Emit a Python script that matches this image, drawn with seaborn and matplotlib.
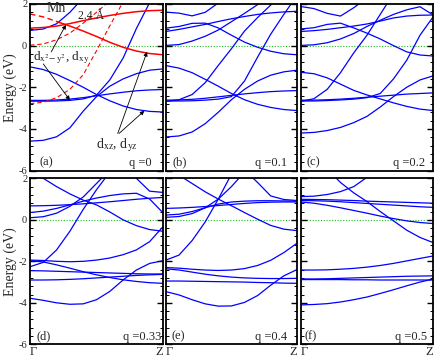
import numpy as np
import matplotlib
matplotlib.use('Agg')
import matplotlib.pyplot as plt
from matplotlib.ticker import MultipleLocator
import seaborn as sns

nan = np.nan

# k-path Gamma (0) -> Z (1), one grid shared by all bands
k = [0.0, 0.1, 0.2, 0.3, 0.4, 0.5, 0.6, 0.7, 0.8, 0.9, 1.0]

# (a) q = 0 ; red = Mn-chain bands
a_red_solid = [0.84, 0.87, 0.94, 1.06, 1.20, 1.33, 1.45, 1.55, 1.63, 1.68, 1.70]
a_red_mixed = [1.52, 1.38, 1.16, 0.94, 0.70, 0.44, 0.16, -0.08, -0.26, -0.38, -0.44]  # dashed until crossing
a_red_dash1 = [0.02, 0.08, 0.28, 0.60, 1.08, 1.60, 2.15, nan, nan, nan, nan]
a_red_dash2 = [-2.79, -2.72, -2.50, -2.10, -1.40, -0.25, 0.95, 2.10, nan, nan, nan]
a_blue = [
    [0.73, 0.80, 1.05, 1.60, 2.30, nan, nan, nan, nan, nan, nan],
    [-1.02, -1.15, -1.38, -1.68, -2.00, -2.35, -2.65, -2.90, -3.07, -3.16, -3.19],
    [-2.63, -2.63, -2.61, -2.57, -2.50, -2.41, -2.32, -2.24, -2.17, -2.13, -2.11],
    [-2.67, -2.67, -2.66, -2.63, -2.56, -2.38, -1.65, -0.60, 0.82, 2.07, nan],
    [-4.59, -4.55, -4.38, -3.95, -3.15, -2.45, -1.95, -1.60, -1.35, -1.18, -1.12],
]

# (b) q = 0.1
b_blue = [
    [1.61, 1.56, 1.43, 1.60, 2.05, nan, nan, nan, nan, nan, nan],
    [0.84, 0.92, 1.07, 1.08, 0.85, 0.50, 0.17, -0.08, -0.27, -0.39, -0.44],
    [0.68, 0.78, 0.90, 1.02, 1.16, 1.29, 1.40, 1.50, 1.57, 1.62, 1.65],
    [0.01, 0.05, 0.22, 0.45, 0.75, 1.15, 1.55, 1.97, 2.40, nan, nan],
    [-2.68, -2.60, -2.35, -1.78, -0.95, -0.15, 0.70, 1.35, 1.95, 2.50, nan],
    [-0.96, -1.08, -1.30, -1.62, -1.95, -2.30, -2.60, -2.82, -2.97, -3.07, -3.12],
    [-2.62, -2.61, -2.58, -2.53, -2.46, -2.39, -2.32, -2.26, -2.21, -2.18, -2.16],
    [-2.66, -2.66, -2.65, -2.62, -2.57, -2.45, -1.70, -0.55, 0.55, 1.50, 2.40],
    [-4.39, -4.34, -4.15, -3.75, -3.20, -2.60, -2.10, -1.70, -1.42, -1.26, -1.18],
]

# (c) q = 0.2
c_blue = [
    [1.88, 1.78, 1.55, 1.42, 1.82, 2.30, nan, nan, nan, nan, nan],
    [0.80, 0.86, 1.02, 1.08, 0.85, 0.60, 0.32, 0.00, -0.30, -0.45, -0.50],
    [0.68, 0.72, 0.78, 0.86, 0.94, 1.04, 1.18, 1.33, 1.42, 1.46, 1.47],
    [0.01, 0.04, 0.14, 0.32, 0.58, 0.92, 1.22, 1.50, 1.72, 1.87, 1.47],
    [-2.68, -2.55, -2.10, -1.30, -0.35, 0.50, 1.50, 2.50, nan, nan, nan],
    [-1.28, -1.35, -1.55, -1.85, -2.15, -2.37, -2.56, -2.75, -2.92, -3.05, -3.12],
    [-2.62, -2.62, -2.60, -2.57, -2.53, -2.48, -2.43, -2.38, -2.33, -2.30, -2.27],
    [-2.66, -2.66, -2.64, -2.61, -2.57, -2.50, -2.30, -1.60, -0.70, 0.50, 1.39],
    [-4.20, -4.17, -4.08, -3.93, -3.70, -3.40, -2.95, -2.45, -2.00, -1.65, -1.45],
]

# (d) q = 0.33
d_blue = [
    [2.45, 2.00, 1.60, 1.25, 0.95, 0.72, 0.38, 0.00, -0.28, -0.47, -0.55],
    [-2.26, -2.05, -1.45, -0.55, 0.50, 1.45, 2.30, nan, nan, nan, nan],
    [0.10, 0.15, 0.32, 0.65, 1.10, 1.75, 2.40, nan, nan, nan, nan],
    [0.35, 0.42, 0.55, 0.72, 0.90, 1.05, 1.17, 1.25, 1.28, 1.00, 0.34],
    [nan, nan, nan, nan, nan, nan, nan, 2.60, 2.00, 1.38, 1.32],
    [0.67, 0.68, 0.70, 0.73, 0.77, 0.82, 0.87, 0.93, 0.99, 1.04, 1.08],
    [-1.94, -1.96, -2.00, -2.02, -2.00, -1.94, -1.84, -1.68, -1.45, -1.05, -0.33],
    [-1.97, -2.03, -2.17, -2.33, -2.50, -2.65, -2.78, -2.89, -2.97, -3.03, -3.06],
    [-2.45, -2.46, -2.48, -2.50, -2.52, -2.54, -2.56, -2.58, -2.60, -2.61, -2.61],
    [-2.90, -2.90, -2.89, -2.87, -2.84, -2.80, -2.76, -2.72, -2.68, -2.65, -2.63],
    [-3.78, -3.88, -4.00, -4.07, -4.05, -3.85, -3.45, -2.90, -2.42, -2.10, -1.97],
]

# (e) q = 0.4
e_blue = [
    [2.50, 2.15, 1.75, 1.35, 1.00, 0.68, 0.35, 0.03, -0.27, -0.45, -0.52],
    [-1.94, -1.70, -1.00, -0.10, 1.00, 2.20, nan, nan, nan, nan, nan],
    [0.12, 0.16, 0.30, 0.58, 1.00, 1.60, 2.30, nan, nan, nan, nan],
    [0.55, 0.57, 0.60, 0.64, 0.69, 0.74, 0.79, 0.83, 0.85, 0.86, 0.86],
    [0.23, 0.27, 0.40, 0.58, 0.76, 0.86, 0.90, 0.92, 0.92, 0.91, 0.90],
    [nan, nan, nan, nan, nan, nan, 2.40, 1.80, 1.15, 0.98, 0.93],
    [-2.30, -2.33, -2.38, -2.42, -2.44, -2.42, -2.35, -2.20, -1.95, -1.58, -1.13],
    [-2.36, -2.42, -2.52, -2.62, -2.70, -2.76, -2.80, -2.82, -2.83, -2.83, -2.82],
    [-2.95, -2.95, -2.96, -2.97, -2.98, -2.99, -3.00, -3.02, -3.03, -3.05, -3.06],
    [-3.46, -3.62, -3.85, -4.05, -4.16, -4.15, -3.98, -3.65, -3.15, -2.70, -2.40],
]

# (f) q = 0.5
f_blue = [
    [1.12, 1.14, 1.22, 1.36, 1.60, 2.05, nan, nan, nan, nan, nan],
    [0.99, 0.98, 0.97, 0.95, 0.93, 0.90, 0.88, 0.86, 0.84, 0.82, 0.80],
    [0.93, 0.92, 0.90, 0.87, 0.83, 0.79, 0.75, 0.71, 0.67, 0.63, 0.60],
    [0.86, 0.80, 0.70, 0.58, 0.45, 0.32, 0.18, 0.06, -0.05, -0.13, -0.18],
    [nan, nan, 2.45, 1.80, 1.30, 0.88, 0.40, -0.05, -0.50, -0.85, -1.10],
    [-2.42, -2.42, -2.41, -2.38, -2.34, -2.28, -2.20, -2.10, -1.98, -1.86, -1.74],
    [-2.85, -2.85, -2.84, -2.82, -2.80, -2.78, -2.76, -2.74, -2.72, -2.71, -2.70],
    [-2.88, -2.88, -2.88, -2.88, -2.89, -2.89, -2.90, -2.90, -2.90, -2.90, -2.90],
    [-4.10, -4.08, -4.04, -3.96, -3.85, -3.72, -3.55, -3.37, -3.18, -3.00, -2.85],
]

panel_tags = ['(a)', '(b)', '(c)', '(d)', '(e)', '(f)']
q_labels = ['q =0', 'q =0.1', 'q =0.2', 'q =0.33', 'q =0.4', 'q =0.5']
blue_sets = [a_blue, b_blue, c_blue, d_blue, e_blue, f_blue]
k_labels = ['\u0393', 'Z']

sns.set_style('ticks')
plt.rcParams['font.family'] = ['Liberation Serif', 'DejaVu Serif']
plt.rcParams['mathtext.fontset'] = 'stix'
plt.rcParams['axes.unicode_minus'] = False

BLUE = '#0000ff'
RED = '#ff0000'
GREEN = '#22bb22'
LW = 0.9
DASH = (0, (4, 2.5))

fig = plt.figure(figsize=(4.36, 3.57), dpi=100)

# axes boxes in figure fraction [left, bottom, width, height]
col_x = [(0.0688, 0.3050), (0.3805, 0.3005), (0.6897, 0.3040)]
row_y = [(0.5224, 0.4664), (0.0355, 0.4650)]
tag_x = [0.07, 0.05, 0.04, 0.05, 0.045, 0.03]
q_x = [0.915, 0.925, 0.94, 0.99, 0.925, 0.955]

axes = []
for i in range(6):
    r, c = divmod(i, 3)
    ax = fig.add_axes([col_x[c][0], row_y[r][0], col_x[c][1], row_y[r][1]])
    axes.append(ax)

    for band in blue_sets[i]:
        sns.lineplot(x=k, y=band, ax=ax, color=BLUE, lw=LW)

    ax.axhline(0, color=GREEN, lw=0.8, ls=(0, (1, 1.5)), zorder=0)

    ax.set_xlim(0, 1)
    ax.set_ylim(-6, 2)
    ax.yaxis.set_major_locator(MultipleLocator(2))
    ax.yaxis.set_minor_locator(MultipleLocator(0.4))
    ax.tick_params(axis='y', which='both', direction='in', left=True, right=True,
                   labelsize=7.5, pad=2, color='k')
    ax.tick_params(axis='y', which='major', length=4, width=1.0)
    ax.tick_params(axis='y', which='minor', length=2.5, width=0.7)
    for sp in ax.spines.values():
        sp.set_visible(True)
        sp.set_color('k')
        sp.set_linewidth(1.3)

    if c != 0:
        ax.set_yticklabels([])
    ax.set_xticks([0, 1])
    ax.tick_params(axis='x', length=0, labelsize=9, pad=1)
    if r == 1:
        ax.set_xticklabels(k_labels)
        lbls = ax.get_xticklabels()
        lbls[0].set_ha('left')
        lbls[1].set_ha('right')
    else:
        ax.set_xticklabels([])

    if c == 0:
        ax.set_ylabel('Energy (eV)', fontsize=10, labelpad=1)
    else:
        ax.set_ylabel('')
    ax.set_xlabel('')

    ax.text(tag_x[i], -5.62, panel_tags[i], fontsize=9, ha='left', va='center')
    ax.text(q_x[i], -5.66, q_labels[i], fontsize=9, ha='right', va='center')

# red Mn bands of panel (a)
ax = axes[0]
sns.lineplot(x=k, y=a_red_solid, ax=ax, color=RED, lw=1.1)
sns.lineplot(x=k[:3], y=a_red_mixed[:3], ax=ax, color=RED, lw=1.0, linestyle=DASH)
sns.lineplot(x=k[2:], y=a_red_mixed[2:], ax=ax, color=RED, lw=1.1)
sns.lineplot(x=k, y=a_red_dash1, ax=ax, color=RED, lw=0.8, linestyle=DASH)
sns.lineplot(x=k, y=a_red_dash2, ax=ax, color=RED, lw=0.8, linestyle=DASH)

ax.text(0.2, 1.78, 'Mn', fontsize=10, ha='center', va='center')
ax.text(0.46, 1.44, '2.4 \u00c5', fontsize=8.5, ha='center', va='center')

arr = dict(arrowstyle='-|>', lw=0.6, color='k', mutation_scale=6, shrinkA=0, shrinkB=0)
ax.text(0.02, -0.6, r'd$_{\mathrm{x^2\!-y^2}}$, d$_{\mathrm{xy}}$', fontsize=9.5,
        ha='left', va='center')
ax.annotate('', xy=(0.27, 1.0), xytext=(0.16, -0.3), arrowprops=arr)
ax.annotate('', xy=(0.30, -2.62), xytext=(0.10, -0.88), arrowprops=arr)

ax.text(0.5, -4.78, r'd$_{\mathrm{xz}}$, d$_{\mathrm{yz}}$', fontsize=10,
        ha='left', va='center')
ax.annotate('', xy=(0.88, -0.3), xytext=(0.66, -4.22), arrowprops=arr)
ax.annotate('', xy=(0.86, -3.13), xytext=(0.67, -4.22), arrowprops=arr)

plt.savefig('out.png', dpi=100)
